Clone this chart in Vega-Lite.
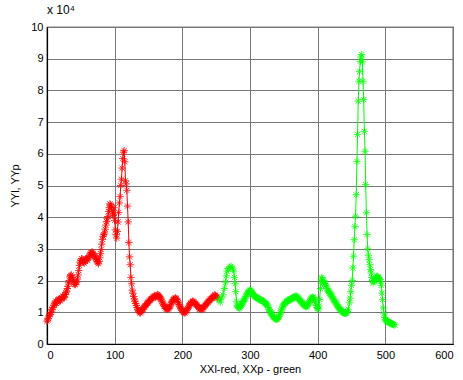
{
  "$schema": "https://vega.github.io/schema/vega-lite/v6.json",
  "width": 406,
  "height": 317,
  "autosize": {"type": "none"},
  "padding": {"left": 47, "top": 27, "right": 10, "bottom": 36},
  "background": "white",
  "title": {
    "text": "x 10⁴",
    "anchor": "start",
    "frame": "group",
    "font": "Liberation Sans",
    "fontSize": 12,
    "fontWeight": "normal",
    "color": "black",
    "offset": 4
  },
  "config": {
    "view": {"stroke": "black", "strokeWidth": 1.2},
    "axis": {
      "labelFont": "Liberation Sans",
      "labelFontSize": 11,
      "labelColor": "black",
      "titleFont": "Liberation Sans",
      "titleFontSize": 11,
      "titleFontWeight": "normal",
      "titleColor": "black",
      "domainColor": "black",
      "domainWidth": 1.2,
      "grid": true,
      "gridColor": "#777777",
      "gridWidth": 1,
      "gridOpacity": 1,
      "ticks": false
    }
  },
  "data": {
    "values": [
      {"s": "XXl", "x": 0, "y": 7200}, {"s": "XXl", "x": 1, "y": 7600}, {"s": "XXl", "x": 2, "y": 8000}, {"s": "XXl", "x": 3, "y": 8900},
      {"s": "XXl", "x": 4, "y": 9200}, {"s": "XXl", "x": 5, "y": 9400}, {"s": "XXl", "x": 6, "y": 10000}, {"s": "XXl", "x": 7, "y": 10800},
      {"s": "XXl", "x": 8, "y": 11000}, {"s": "XXl", "x": 9, "y": 11500}, {"s": "XXl", "x": 10, "y": 12200}, {"s": "XXl", "x": 11, "y": 12600},
      {"s": "XXl", "x": 12, "y": 13000}, {"s": "XXl", "x": 13, "y": 13500}, {"s": "XXl", "x": 14, "y": 12800}, {"s": "XXl", "x": 15, "y": 13200},
      {"s": "XXl", "x": 16, "y": 13800}, {"s": "XXl", "x": 17, "y": 14000}, {"s": "XXl", "x": 18, "y": 14200}, {"s": "XXl", "x": 19, "y": 13900},
      {"s": "XXl", "x": 20, "y": 13600}, {"s": "XXl", "x": 21, "y": 14200}, {"s": "XXl", "x": 22, "y": 14500}, {"s": "XXl", "x": 23, "y": 15100},
      {"s": "XXl", "x": 24, "y": 15000}, {"s": "XXl", "x": 25, "y": 14600}, {"s": "XXl", "x": 26, "y": 14800}, {"s": "XXl", "x": 27, "y": 15600},
      {"s": "XXl", "x": 28, "y": 16200}, {"s": "XXl", "x": 29, "y": 16500}, {"s": "XXl", "x": 30, "y": 17500}, {"s": "XXl", "x": 31, "y": 18200},
      {"s": "XXl", "x": 32, "y": 19300}, {"s": "XXl", "x": 33, "y": 20000}, {"s": "XXl", "x": 34, "y": 21200}, {"s": "XXl", "x": 35, "y": 21600},
      {"s": "XXl", "x": 36, "y": 21800}, {"s": "XXl", "x": 37, "y": 21000}, {"s": "XXl", "x": 38, "y": 20500}, {"s": "XXl", "x": 39, "y": 19800},
      {"s": "XXl", "x": 40, "y": 19200}, {"s": "XXl", "x": 41, "y": 18800}, {"s": "XXl", "x": 42, "y": 18700}, {"s": "XXl", "x": 43, "y": 19300},
      {"s": "XXl", "x": 44, "y": 19600}, {"s": "XXl", "x": 45, "y": 20500}, {"s": "XXl", "x": 46, "y": 21800}, {"s": "XXl", "x": 47, "y": 23200},
      {"s": "XXl", "x": 48, "y": 24800}, {"s": "XXl", "x": 49, "y": 25800}, {"s": "XXl", "x": 50, "y": 26300}, {"s": "XXl", "x": 51, "y": 26900},
      {"s": "XXl", "x": 52, "y": 26800}, {"s": "XXl", "x": 53, "y": 26100}, {"s": "XXl", "x": 54, "y": 25800}, {"s": "XXl", "x": 55, "y": 25500},
      {"s": "XXl", "x": 56, "y": 26200}, {"s": "XXl", "x": 57, "y": 26800}, {"s": "XXl", "x": 58, "y": 26900}, {"s": "XXl", "x": 59, "y": 26400},
      {"s": "XXl", "x": 60, "y": 26500}, {"s": "XXl", "x": 61, "y": 27200}, {"s": "XXl", "x": 62, "y": 27500}, {"s": "XXl", "x": 63, "y": 27800},
      {"s": "XXl", "x": 64, "y": 28400}, {"s": "XXl", "x": 65, "y": 28800}, {"s": "XXl", "x": 66, "y": 28900}, {"s": "XXl", "x": 67, "y": 29000},
      {"s": "XXl", "x": 68, "y": 28600}, {"s": "XXl", "x": 69, "y": 28200}, {"s": "XXl", "x": 70, "y": 27800}, {"s": "XXl", "x": 71, "y": 27400},
      {"s": "XXl", "x": 72, "y": 27000}, {"s": "XXl", "x": 73, "y": 26600}, {"s": "XXl", "x": 74, "y": 26000}, {"s": "XXl", "x": 75, "y": 25800},
      {"s": "XXl", "x": 76, "y": 25300}, {"s": "XXl", "x": 77, "y": 26000}, {"s": "XXl", "x": 78, "y": 27200}, {"s": "XXl", "x": 79, "y": 28500},
      {"s": "XXl", "x": 80, "y": 29800}, {"s": "XXl", "x": 81, "y": 31500}, {"s": "XXl", "x": 82, "y": 33000}, {"s": "XXl", "x": 83, "y": 34000},
      {"s": "XXl", "x": 84, "y": 34500}, {"s": "XXl", "x": 85, "y": 35000}, {"s": "XXl", "x": 86, "y": 36200}, {"s": "XXl", "x": 87, "y": 37500},
      {"s": "XXl", "x": 88, "y": 38600}, {"s": "XXl", "x": 89, "y": 39500}, {"s": "XXl", "x": 90, "y": 40200}, {"s": "XXl", "x": 91, "y": 41800},
      {"s": "XXl", "x": 92, "y": 43000}, {"s": "XXl", "x": 93, "y": 44200}, {"s": "XXl", "x": 94, "y": 43900}, {"s": "XXl", "x": 95, "y": 43500},
      {"s": "XXl", "x": 96, "y": 42200}, {"s": "XXl", "x": 97, "y": 41000}, {"s": "XXl", "x": 98, "y": 40500}, {"s": "XXl", "x": 99, "y": 43000},
      {"s": "XXl", "x": 100, "y": 39000}, {"s": "XXl", "x": 101, "y": 36000}, {"s": "XXl", "x": 102, "y": 34500},
      {"s": "XXl", "x": 103, "y": 33400}, {"s": "XXl", "x": 104, "y": 35500}, {"s": "XXl", "x": 105, "y": 38500},
      {"s": "XXl", "x": 106, "y": 41500}, {"s": "XXl", "x": 107, "y": 44500}, {"s": "XXl", "x": 108, "y": 46500},
      {"s": "XXl", "x": 109, "y": 50000}, {"s": "XXl", "x": 110, "y": 52000}, {"s": "XXl", "x": 111, "y": 55500},
      {"s": "XXl", "x": 112, "y": 58500}, {"s": "XXl", "x": 113, "y": 60500}, {"s": "XXl", "x": 114, "y": 61000},
      {"s": "XXl", "x": 115, "y": 57500}, {"s": "XXl", "x": 116, "y": 51500}, {"s": "XXl", "x": 117, "y": 50500},
      {"s": "XXl", "x": 118, "y": 48500}, {"s": "XXl", "x": 119, "y": 43500}, {"s": "XXl", "x": 120, "y": 38500},
      {"s": "XXl", "x": 121, "y": 32000}, {"s": "XXl", "x": 122, "y": 27500}, {"s": "XXl", "x": 123, "y": 25000},
      {"s": "XXl", "x": 124, "y": 21000}, {"s": "XXl", "x": 125, "y": 19000}, {"s": "XXl", "x": 126, "y": 17000},
      {"s": "XXl", "x": 127, "y": 16000}, {"s": "XXl", "x": 128, "y": 15000}, {"s": "XXl", "x": 129, "y": 14200}, {"s": "XXl", "x": 130, "y": 13500},
      {"s": "XXl", "x": 131, "y": 12800}, {"s": "XXl", "x": 132, "y": 12200}, {"s": "XXl", "x": 133, "y": 11500}, {"s": "XXl", "x": 134, "y": 11000},
      {"s": "XXl", "x": 135, "y": 10600}, {"s": "XXl", "x": 136, "y": 10200}, {"s": "XXl", "x": 137, "y": 9900}, {"s": "XXl", "x": 138, "y": 9800},
      {"s": "XXl", "x": 139, "y": 10200}, {"s": "XXl", "x": 140, "y": 10500}, {"s": "XXl", "x": 141, "y": 10800}, {"s": "XXl", "x": 142, "y": 11000},
      {"s": "XXl", "x": 143, "y": 11500}, {"s": "XXl", "x": 144, "y": 11800}, {"s": "XXl", "x": 145, "y": 12000}, {"s": "XXl", "x": 146, "y": 12200},
      {"s": "XXl", "x": 147, "y": 12600}, {"s": "XXl", "x": 148, "y": 12800}, {"s": "XXl", "x": 149, "y": 13000}, {"s": "XXl", "x": 150, "y": 13200},
      {"s": "XXl", "x": 151, "y": 13600}, {"s": "XXl", "x": 152, "y": 13800}, {"s": "XXl", "x": 153, "y": 14000}, {"s": "XXl", "x": 154, "y": 14200},
      {"s": "XXl", "x": 155, "y": 14300}, {"s": "XXl", "x": 156, "y": 14500}, {"s": "XXl", "x": 157, "y": 14900}, {"s": "XXl", "x": 158, "y": 15000},
      {"s": "XXl", "x": 159, "y": 15200}, {"s": "XXl", "x": 160, "y": 14800}, {"s": "XXl", "x": 161, "y": 14900}, {"s": "XXl", "x": 162, "y": 15200},
      {"s": "XXl", "x": 163, "y": 15500}, {"s": "XXl", "x": 164, "y": 15600}, {"s": "XXl", "x": 165, "y": 15300}, {"s": "XXl", "x": 166, "y": 15000},
      {"s": "XXl", "x": 167, "y": 14600}, {"s": "XXl", "x": 168, "y": 14200}, {"s": "XXl", "x": 169, "y": 13900}, {"s": "XXl", "x": 170, "y": 13500},
      {"s": "XXl", "x": 171, "y": 12900}, {"s": "XXl", "x": 172, "y": 12500}, {"s": "XXl", "x": 173, "y": 12100}, {"s": "XXl", "x": 174, "y": 11800},
      {"s": "XXl", "x": 175, "y": 11400}, {"s": "XXl", "x": 176, "y": 11200}, {"s": "XXl", "x": 177, "y": 11000}, {"s": "XXl", "x": 178, "y": 11000},
      {"s": "XXl", "x": 179, "y": 11100}, {"s": "XXl", "x": 180, "y": 11200}, {"s": "XXl", "x": 181, "y": 11600}, {"s": "XXl", "x": 182, "y": 12000},
      {"s": "XXl", "x": 183, "y": 12500}, {"s": "XXl", "x": 184, "y": 13000}, {"s": "XXl", "x": 185, "y": 13400}, {"s": "XXl", "x": 186, "y": 13800},
      {"s": "XXl", "x": 187, "y": 14000}, {"s": "XXl", "x": 188, "y": 14200}, {"s": "XXl", "x": 189, "y": 14400}, {"s": "XXl", "x": 190, "y": 14500},
      {"s": "XXl", "x": 191, "y": 14300}, {"s": "XXl", "x": 192, "y": 14000}, {"s": "XXl", "x": 193, "y": 13500}, {"s": "XXl", "x": 194, "y": 13000},
      {"s": "XXl", "x": 195, "y": 12500}, {"s": "XXl", "x": 196, "y": 12000}, {"s": "XXl", "x": 197, "y": 11600}, {"s": "XXl", "x": 198, "y": 11200},
      {"s": "XXl", "x": 199, "y": 10800}, {"s": "XXl", "x": 200, "y": 10500}, {"s": "XXl", "x": 201, "y": 10200}, {"s": "XXl", "x": 202, "y": 10000},
      {"s": "XXl", "x": 203, "y": 9900}, {"s": "XXl", "x": 204, "y": 9800}, {"s": "XXl", "x": 205, "y": 10100}, {"s": "XXl", "x": 206, "y": 10500},
      {"s": "XXl", "x": 207, "y": 10800}, {"s": "XXl", "x": 208, "y": 11200}, {"s": "XXl", "x": 209, "y": 11600}, {"s": "XXl", "x": 210, "y": 12000},
      {"s": "XXl", "x": 211, "y": 12400}, {"s": "XXl", "x": 212, "y": 12800}, {"s": "XXl", "x": 213, "y": 13000}, {"s": "XXl", "x": 214, "y": 13200},
      {"s": "XXl", "x": 215, "y": 13400}, {"s": "XXl", "x": 216, "y": 13500}, {"s": "XXl", "x": 217, "y": 13300}, {"s": "XXl", "x": 218, "y": 13000},
      {"s": "XXl", "x": 219, "y": 12800}, {"s": "XXl", "x": 220, "y": 12500}, {"s": "XXl", "x": 221, "y": 12300}, {"s": "XXl", "x": 222, "y": 12200},
      {"s": "XXl", "x": 223, "y": 11800}, {"s": "XXl", "x": 224, "y": 11500}, {"s": "XXl", "x": 225, "y": 11200}, {"s": "XXl", "x": 226, "y": 11000},
      {"s": "XXl", "x": 227, "y": 11100}, {"s": "XXl", "x": 228, "y": 11200}, {"s": "XXl", "x": 229, "y": 11000}, {"s": "XXl", "x": 230, "y": 11000},
      {"s": "XXl", "x": 231, "y": 11400}, {"s": "XXl", "x": 232, "y": 11800}, {"s": "XXl", "x": 233, "y": 12000}, {"s": "XXl", "x": 234, "y": 12200},
      {"s": "XXl", "x": 235, "y": 12500}, {"s": "XXl", "x": 236, "y": 12800}, {"s": "XXl", "x": 237, "y": 13000}, {"s": "XXl", "x": 238, "y": 13200},
      {"s": "XXl", "x": 239, "y": 13500}, {"s": "XXl", "x": 240, "y": 13800}, {"s": "XXl", "x": 241, "y": 14000}, {"s": "XXl", "x": 242, "y": 14200},
      {"s": "XXl", "x": 243, "y": 14300}, {"s": "XXl", "x": 244, "y": 14500}, {"s": "XXl", "x": 245, "y": 14800}, {"s": "XXl", "x": 246, "y": 15000},
      {"s": "XXl", "x": 247, "y": 15300}, {"s": "XXl", "x": 248, "y": 15500}, {"s": "XXl", "x": 249, "y": 15300}, {"s": "XXl", "x": 250, "y": 15000},
      {"s": "XXl", "x": 251, "y": 14700}, {"s": "XXl", "x": 252, "y": 14500},

      {"s": "XXp", "x": 254, "y": 14000}, {"s": "XXp", "x": 256, "y": 13200}, {"s": "XXp", "x": 258, "y": 14500},
      {"s": "XXp", "x": 260, "y": 15500}, {"s": "XXp", "x": 262, "y": 17500}, {"s": "XXp", "x": 264, "y": 19500},
      {"s": "XXp", "x": 265, "y": 21500}, {"s": "XXp", "x": 266, "y": 23000}, {"s": "XXp", "x": 268, "y": 23800},
      {"s": "XXp", "x": 270, "y": 24200}, {"s": "XXp", "x": 272, "y": 24500}, {"s": "XXp", "x": 274, "y": 24000},
      {"s": "XXp", "x": 276, "y": 23000}, {"s": "XXp", "x": 277, "y": 21000}, {"s": "XXp", "x": 278, "y": 19000},
      {"s": "XXp", "x": 279, "y": 16500}, {"s": "XXp", "x": 280, "y": 13500}, {"s": "XXp", "x": 281, "y": 12200},
      {"s": "XXp", "x": 282, "y": 11800}, {"s": "XXp", "x": 283, "y": 11500}, {"s": "XXp", "x": 284, "y": 11400}, {"s": "XXp", "x": 285, "y": 11400},
      {"s": "XXp", "x": 286, "y": 11800}, {"s": "XXp", "x": 287, "y": 12200}, {"s": "XXp", "x": 288, "y": 12600}, {"s": "XXp", "x": 289, "y": 13000},
      {"s": "XXp", "x": 290, "y": 13400}, {"s": "XXp", "x": 291, "y": 13800}, {"s": "XXp", "x": 292, "y": 14200}, {"s": "XXp", "x": 293, "y": 14500},
      {"s": "XXp", "x": 294, "y": 15000}, {"s": "XXp", "x": 295, "y": 15500}, {"s": "XXp", "x": 296, "y": 15900}, {"s": "XXp", "x": 297, "y": 16200},
      {"s": "XXp", "x": 298, "y": 16500}, {"s": "XXp", "x": 299, "y": 16800}, {"s": "XXp", "x": 300, "y": 16900}, {"s": "XXp", "x": 301, "y": 17000},
      {"s": "XXp", "x": 302, "y": 16600}, {"s": "XXp", "x": 303, "y": 16200}, {"s": "XXp", "x": 304, "y": 15800}, {"s": "XXp", "x": 305, "y": 15500},
      {"s": "XXp", "x": 306, "y": 15200}, {"s": "XXp", "x": 307, "y": 15000}, {"s": "XXp", "x": 308, "y": 14900}, {"s": "XXp", "x": 309, "y": 14800},
      {"s": "XXp", "x": 310, "y": 14600}, {"s": "XXp", "x": 311, "y": 14500}, {"s": "XXp", "x": 312, "y": 14300}, {"s": "XXp", "x": 313, "y": 14200},
      {"s": "XXp", "x": 314, "y": 14100}, {"s": "XXp", "x": 315, "y": 14000}, {"s": "XXp", "x": 316, "y": 13900}, {"s": "XXp", "x": 317, "y": 13800},
      {"s": "XXp", "x": 318, "y": 13600}, {"s": "XXp", "x": 319, "y": 13500}, {"s": "XXp", "x": 320, "y": 13400}, {"s": "XXp", "x": 321, "y": 13200},
      {"s": "XXp", "x": 322, "y": 13000}, {"s": "XXp", "x": 323, "y": 12800}, {"s": "XXp", "x": 324, "y": 12700}, {"s": "XXp", "x": 325, "y": 12500},
      {"s": "XXp", "x": 326, "y": 12000}, {"s": "XXp", "x": 327, "y": 11500}, {"s": "XXp", "x": 328, "y": 11000}, {"s": "XXp", "x": 329, "y": 10500},
      {"s": "XXp", "x": 330, "y": 10200}, {"s": "XXp", "x": 331, "y": 9800}, {"s": "XXp", "x": 332, "y": 9400}, {"s": "XXp", "x": 333, "y": 9000},
      {"s": "XXp", "x": 334, "y": 8700}, {"s": "XXp", "x": 335, "y": 8500}, {"s": "XXp", "x": 336, "y": 8200}, {"s": "XXp", "x": 337, "y": 8000},
      {"s": "XXp", "x": 338, "y": 7900}, {"s": "XXp", "x": 339, "y": 7800}, {"s": "XXp", "x": 340, "y": 7800}, {"s": "XXp", "x": 341, "y": 8000},
      {"s": "XXp", "x": 342, "y": 8400}, {"s": "XXp", "x": 343, "y": 8800}, {"s": "XXp", "x": 344, "y": 9300}, {"s": "XXp", "x": 345, "y": 9800},
      {"s": "XXp", "x": 346, "y": 10400}, {"s": "XXp", "x": 347, "y": 11000}, {"s": "XXp", "x": 348, "y": 11600}, {"s": "XXp", "x": 349, "y": 12000},
      {"s": "XXp", "x": 350, "y": 12400}, {"s": "XXp", "x": 351, "y": 12800}, {"s": "XXp", "x": 352, "y": 13000}, {"s": "XXp", "x": 353, "y": 13200},
      {"s": "XXp", "x": 354, "y": 13400}, {"s": "XXp", "x": 355, "y": 13500}, {"s": "XXp", "x": 356, "y": 13600}, {"s": "XXp", "x": 357, "y": 13800},
      {"s": "XXp", "x": 358, "y": 13900}, {"s": "XXp", "x": 359, "y": 14000}, {"s": "XXp", "x": 360, "y": 14100}, {"s": "XXp", "x": 361, "y": 14200},
      {"s": "XXp", "x": 362, "y": 14300}, {"s": "XXp", "x": 363, "y": 14500}, {"s": "XXp", "x": 364, "y": 14600}, {"s": "XXp", "x": 365, "y": 14800},
      {"s": "XXp", "x": 366, "y": 14900}, {"s": "XXp", "x": 367, "y": 15000}, {"s": "XXp", "x": 368, "y": 15100}, {"s": "XXp", "x": 369, "y": 15000},
      {"s": "XXp", "x": 370, "y": 14800}, {"s": "XXp", "x": 371, "y": 14500}, {"s": "XXp", "x": 372, "y": 14200}, {"s": "XXp", "x": 373, "y": 14000},
      {"s": "XXp", "x": 374, "y": 13700}, {"s": "XXp", "x": 375, "y": 13500}, {"s": "XXp", "x": 376, "y": 13200}, {"s": "XXp", "x": 377, "y": 13000},
      {"s": "XXp", "x": 378, "y": 12800}, {"s": "XXp", "x": 379, "y": 12500}, {"s": "XXp", "x": 380, "y": 12200}, {"s": "XXp", "x": 381, "y": 12000},
      {"s": "XXp", "x": 382, "y": 11900}, {"s": "XXp", "x": 383, "y": 11800}, {"s": "XXp", "x": 384, "y": 11900}, {"s": "XXp", "x": 385, "y": 12200},
      {"s": "XXp", "x": 386, "y": 12600}, {"s": "XXp", "x": 387, "y": 13000}, {"s": "XXp", "x": 388, "y": 13400}, {"s": "XXp", "x": 389, "y": 13800},
      {"s": "XXp", "x": 390, "y": 14200}, {"s": "XXp", "x": 391, "y": 14500}, {"s": "XXp", "x": 392, "y": 14700}, {"s": "XXp", "x": 393, "y": 14800},
      {"s": "XXp", "x": 394, "y": 14600}, {"s": "XXp", "x": 395, "y": 14200}, {"s": "XXp", "x": 396, "y": 13600}, {"s": "XXp", "x": 397, "y": 13000},
      {"s": "XXp", "x": 398, "y": 12200}, {"s": "XXp", "x": 399, "y": 11500}, {"s": "XXp", "x": 400, "y": 11200}, {"s": "XXp", "x": 401, "y": 11000},
      {"s": "XXp", "x": 402, "y": 12000}, {"s": "XXp", "x": 403, "y": 14000}, {"s": "XXp", "x": 404, "y": 17500}, {"s": "XXp", "x": 405, "y": 19500},
      {"s": "XXp", "x": 406, "y": 21000}, {"s": "XXp", "x": 407, "y": 20500}, {"s": "XXp", "x": 408, "y": 20000}, {"s": "XXp", "x": 409, "y": 19500},
      {"s": "XXp", "x": 410, "y": 19200}, {"s": "XXp", "x": 411, "y": 19000}, {"s": "XXp", "x": 412, "y": 18500}, {"s": "XXp", "x": 413, "y": 18000},
      {"s": "XXp", "x": 414, "y": 17500}, {"s": "XXp", "x": 415, "y": 17000}, {"s": "XXp", "x": 416, "y": 16600}, {"s": "XXp", "x": 417, "y": 16200},
      {"s": "XXp", "x": 418, "y": 16000}, {"s": "XXp", "x": 419, "y": 15800}, {"s": "XXp", "x": 420, "y": 15400}, {"s": "XXp", "x": 421, "y": 15000},
      {"s": "XXp", "x": 422, "y": 14600}, {"s": "XXp", "x": 423, "y": 14200}, {"s": "XXp", "x": 424, "y": 13900}, {"s": "XXp", "x": 425, "y": 13500},
      {"s": "XXp", "x": 426, "y": 13200}, {"s": "XXp", "x": 427, "y": 13000}, {"s": "XXp", "x": 428, "y": 12600}, {"s": "XXp", "x": 429, "y": 12200},
      {"s": "XXp", "x": 430, "y": 11800}, {"s": "XXp", "x": 431, "y": 11500}, {"s": "XXp", "x": 432, "y": 11200}, {"s": "XXp", "x": 433, "y": 11000},
      {"s": "XXp", "x": 434, "y": 10800}, {"s": "XXp", "x": 435, "y": 10500}, {"s": "XXp", "x": 436, "y": 10200}, {"s": "XXp", "x": 437, "y": 10000},
      {"s": "XXp", "x": 438, "y": 9900}, {"s": "XXp", "x": 439, "y": 9800}, {"s": "XXp", "x": 440, "y": 9700}, {"s": "XXp", "x": 441, "y": 9700},
      {"s": "XXp", "x": 442, "y": 9800}, {"s": "XXp", "x": 443, "y": 9800}, {"s": "XXp", "x": 444, "y": 10200}, {"s": "XXp", "x": 445, "y": 11000},
      {"s": "XXp", "x": 447, "y": 13000}, {"s": "XXp", "x": 448, "y": 14500}, {"s": "XXp", "x": 449, "y": 16500},
      {"s": "XXp", "x": 450, "y": 18500}, {"s": "XXp", "x": 451, "y": 20000}, {"s": "XXp", "x": 452, "y": 24000},
      {"s": "XXp", "x": 453, "y": 27700}, {"s": "XXp", "x": 454, "y": 32900}, {"s": "XXp", "x": 455, "y": 37000},
      {"s": "XXp", "x": 456, "y": 40300}, {"s": "XXp", "x": 457, "y": 47100}, {"s": "XXp", "x": 458, "y": 57600},
      {"s": "XXp", "x": 459, "y": 66100}, {"s": "XXp", "x": 460, "y": 76600}, {"s": "XXp", "x": 461, "y": 82900},
      {"s": "XXp", "x": 462, "y": 86000}, {"s": "XXp", "x": 463, "y": 89200}, {"s": "XXp", "x": 464, "y": 90500},
      {"s": "XXp", "x": 465, "y": 91300}, {"s": "XXp", "x": 466, "y": 89000}, {"s": "XXp", "x": 467, "y": 82900},
      {"s": "XXp", "x": 468, "y": 77100}, {"s": "XXp", "x": 469, "y": 67100}, {"s": "XXp", "x": 470, "y": 60800},
      {"s": "XXp", "x": 471, "y": 50300}, {"s": "XXp", "x": 472, "y": 41400}, {"s": "XXp", "x": 473, "y": 34500},
      {"s": "XXp", "x": 474, "y": 30000}, {"s": "XXp", "x": 475, "y": 28000}, {"s": "XXp", "x": 476, "y": 26600},
      {"s": "XXp", "x": 477, "y": 25000}, {"s": "XXp", "x": 478, "y": 23500}, {"s": "XXp", "x": 479, "y": 22400},
      {"s": "XXp", "x": 480, "y": 21000}, {"s": "XXp", "x": 481, "y": 20000}, {"s": "XXp", "x": 482, "y": 19300},
      {"s": "XXp", "x": 483, "y": 19800}, {"s": "XXp", "x": 484, "y": 20000}, {"s": "XXp", "x": 485, "y": 20600}, {"s": "XXp", "x": 486, "y": 21000},
      {"s": "XXp", "x": 487, "y": 21200}, {"s": "XXp", "x": 488, "y": 21400}, {"s": "XXp", "x": 489, "y": 21100}, {"s": "XXp", "x": 490, "y": 21000},
      {"s": "XXp", "x": 491, "y": 20600}, {"s": "XXp", "x": 492, "y": 20300}, {"s": "XXp", "x": 493, "y": 19600}, {"s": "XXp", "x": 494, "y": 18500},
      {"s": "XXp", "x": 495, "y": 16100}, {"s": "XXp", "x": 496, "y": 14000}, {"s": "XXp", "x": 497, "y": 11400},
      {"s": "XXp", "x": 498, "y": 9500}, {"s": "XXp", "x": 499, "y": 8400}, {"s": "XXp", "x": 500, "y": 7700}, {"s": "XXp", "x": 501, "y": 7400},
      {"s": "XXp", "x": 502, "y": 7200}, {"s": "XXp", "x": 503, "y": 7100}, {"s": "XXp", "x": 504, "y": 7000}, {"s": "XXp", "x": 505, "y": 6900},
      {"s": "XXp", "x": 506, "y": 6800}, {"s": "XXp", "x": 507, "y": 6700}, {"s": "XXp", "x": 508, "y": 6600}, {"s": "XXp", "x": 509, "y": 6400},
      {"s": "XXp", "x": 510, "y": 6300}, {"s": "XXp", "x": 511, "y": 6200}, {"s": "XXp", "x": 512, "y": 6100}, {"s": "XXp", "x": 514, "y": 6000}
    ]
  },
  "encoding": {
    "x": {
      "field": "x",
      "type": "quantitative",
      "scale": {"domain": [0, 600], "nice": false, "zero": false},
      "axis": {
        "values": [0, 100, 200, 300, 400, 500, 600],
        "title": "XXl-red, XXp - green",
        "labelPadding": 5,
        "titlePadding": 3
      }
    },
    "y": {
      "field": "y",
      "type": "quantitative",
      "scale": {"domain": [0, 100000], "nice": false},
      "axis": {
        "values": [0, 10000, 20000, 30000, 40000, 50000, 60000, 70000, 80000, 90000, 100000],
        "labelExpr": "datum.value / 10000",
        "title": "YYl, YYp",
        "labelPadding": 4,
        "titlePadding": 10
      }
    },
    "color": {
      "field": "s",
      "type": "nominal",
      "scale": {"domain": ["XXl", "XXp"], "range": ["#ff0000", "#00ff00"]},
      "legend": null
    }
  },
  "layer": [
    {"mark": {"type": "line", "strokeWidth": 1}},
    {
      "mark": {
        "type": "point",
        "shape": "M-1,0L1,0M0,-1L0,1M-0.7,-0.7L0.7,0.7M-0.7,0.7L0.7,-0.7",
        "size": 55,
        "filled": false,
        "strokeWidth": 1,
        "opacity": 0.8
      }
    }
  ]
}
